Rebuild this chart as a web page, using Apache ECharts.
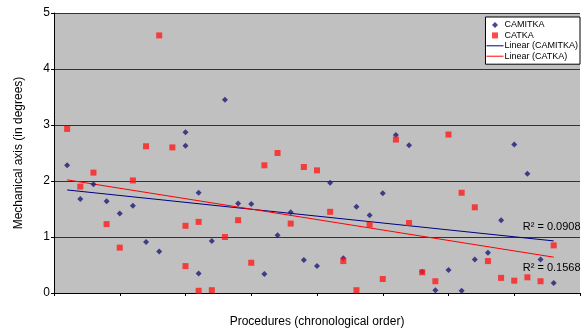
<!DOCTYPE html>
<html>
<head>
<meta charset="utf-8">
<script src="https://cdn.jsdelivr.net/npm/echarts@6/dist/echarts.min.js"></script>
<style>
  html, body { margin: 0; padding: 0; background: #fff; }
  #chart { width: 581px; height: 333px; }
</style>
</head>
<body>
<div id="chart"></div>
<script>
// procedure index (x) and mechanical axis value (y) for each series
let camitkaX = [1, 2, 3, 4, 5, 6, 7, 8, 10, 10, 11, 11, 12, 13, 14, 15, 16, 17, 18, 19, 20,
  21, 22, 23, 24, 25, 26, 27, 28, 29, 30, 31, 32, 33, 34, 35, 36, 37, 38];
let camitkaY = [2.28, 1.68, 1.94, 1.64, 1.42, 1.56, 0.91, 0.74, 2.87, 2.63, 1.79, 0.35, 0.93, 3.45, 1.60, 1.59, 0.34, 1.03, 1.44, 0.59, 0.48,
  1.97, 0.62, 1.54, 1.39, 1.78, 2.82, 2.64, 0.38, 0.05, 0.41, 0.04, 0.60, 0.72, 1.30, 2.65, 2.13, 0.60, 0.18];

let catkaX = [1, 2, 3, 4, 5, 6, 7, 8, 9, 10, 10, 11, 11, 12, 13, 14, 15, 16, 17, 18, 19, 20,
  21, 22, 23, 24, 25, 26, 27, 28, 29, 30, 31, 32, 33, 34, 35, 36, 37, 38];
let catkaY = [2.93, 1.90, 2.15, 1.23, 0.81, 2.01, 2.62, 4.60, 2.60, 1.20, 0.48, 1.27, 0.04, 0.05, 1.00, 1.30, 0.54, 2.28, 2.50, 1.24, 2.25, 2.19,
  1.45, 0.57, 0.05, 1.22, 0.25, 2.74, 1.25, 0.37, 0.21, 2.83, 1.79, 1.53, 0.57, 0.27, 0.22, 0.28, 0.21, 0.85];

// linear trend lines, start and end
let trendX = [1, 38];
let camitkaTrendY = [1.84, 0.93];
let catkaTrendY = [2.02, 0.64];
let camitkaR2 = '0.0908';
let catkaR2 = '0.1568';

let pairs = function (xs, ys) {
  let res = [];
  for (let i = 0; i < xs.length; i++) {
    res.push([xs[i], ys[i]]);
  }
  return res;
};

let font = 'Liberation Sans, Arial, sans-serif';
let lineIcon = 'path://M0,0H17V1H0Z';
let myChart = echarts.init(document.getElementById('chart'));

let option = {
  animation: false,
  backgroundColor: '#fff',
  textStyle: { fontFamily: font },
  grid: {
    left: 54, right: 1, top: 13, bottom: 37,
    show: true,
    backgroundColor: '#c0c0c0',
    borderWidth: 0
  },
  legend: {
    orient: 'vertical',
    right: 1,
    top: 17,
    backgroundColor: '#fff',
    borderColor: '#000',
    borderWidth: 1,
    padding: [3, 2, 3, 1],
    itemGap: 0.4,
    itemWidth: 17,
    itemHeight: 6,
    symbolKeepAspect: true,
    textStyle: { fontSize: 9, color: '#000', lineHeight: 10, padding: [0, 0, 0, -4] },
    data: [
      { name: 'CAMITKA', icon: 'path://M0,-1L1,0L0,1L-1,0Z' },
      { name: 'CATKA', icon: 'path://M0,0H1V1H0Z' },
      { name: 'Linear (CAMITKA)', icon: lineIcon },
      { name: 'Linear (CATKA)', icon: lineIcon }
    ]
  },
  xAxis: {
    type: 'value',
    min: 0,
    max: 40,
    interval: 5,
    name: 'Procedures (chronological order)',
    nameLocation: 'middle',
    nameGap: 23,
    nameTextStyle: { fontSize: 12, color: '#000' },
    axisLine: { show: true, lineStyle: { color: '#000', width: 1 } },
    axisTick: { show: true, length: 3, lineStyle: { color: '#000' } },
    axisLabel: { show: false },
    splitLine: { show: false }
  },
  yAxis: {
    type: 'value',
    min: 0,
    max: 5,
    interval: 1,
    name: 'Mechanical axis (in degrees)',
    nameLocation: 'middle',
    nameGap: 29,
    nameTextStyle: { fontSize: 12, color: '#000' },
    axisLine: { show: true, lineStyle: { color: '#000', width: 1 } },
    axisTick: { show: true, length: 3, lineStyle: { color: '#000' } },
    axisLabel: { fontSize: 12, color: '#000', margin: 4 },
    splitLine: { show: true, lineStyle: { color: '#333', width: 1 } }
  },
  series: [
    {
      name: 'CAMITKA',
      type: 'scatter',
      symbol: 'diamond',
      symbolSize: 6,
      itemStyle: { color: '#1a1a78' },
      z: 3,
      data: pairs(camitkaX, camitkaY)
    },
    {
      name: 'CATKA',
      type: 'scatter',
      symbol: 'rect',
      symbolSize: 6,
      itemStyle: { color: '#ff1a1a' },
      z: 3,
      data: pairs(catkaX, catkaY)
    },
    {
      name: 'Linear (CAMITKA)',
      type: 'line',
      symbol: 'none',
      itemStyle: { color: '#000080' },
      lineStyle: { color: '#000080', width: 1 },
      z: 2,
      endLabel: {
        show: true,
        formatter: 'R\u00b2 = ' + camitkaR2,
        distance: 0,
        align: 'center',
        verticalAlign: 'bottom',
        offset: [-2, -8],
        fontSize: 11,
        color: '#000'
      },
      data: pairs(trendX, camitkaTrendY)
    },
    {
      name: 'Linear (CATKA)',
      type: 'line',
      symbol: 'none',
      itemStyle: { color: '#ff0000' },
      lineStyle: { color: '#ff0000', width: 1 },
      z: 2,
      endLabel: {
        show: true,
        formatter: 'R\u00b2 = ' + catkaR2,
        distance: 0,
        align: 'center',
        verticalAlign: 'top',
        offset: [-2, 5],
        fontSize: 11,
        color: '#000'
      },
      data: pairs(trendX, catkaTrendY)
    }
  ]
};
myChart.setOption(option);
</script>
</body>
</html>
